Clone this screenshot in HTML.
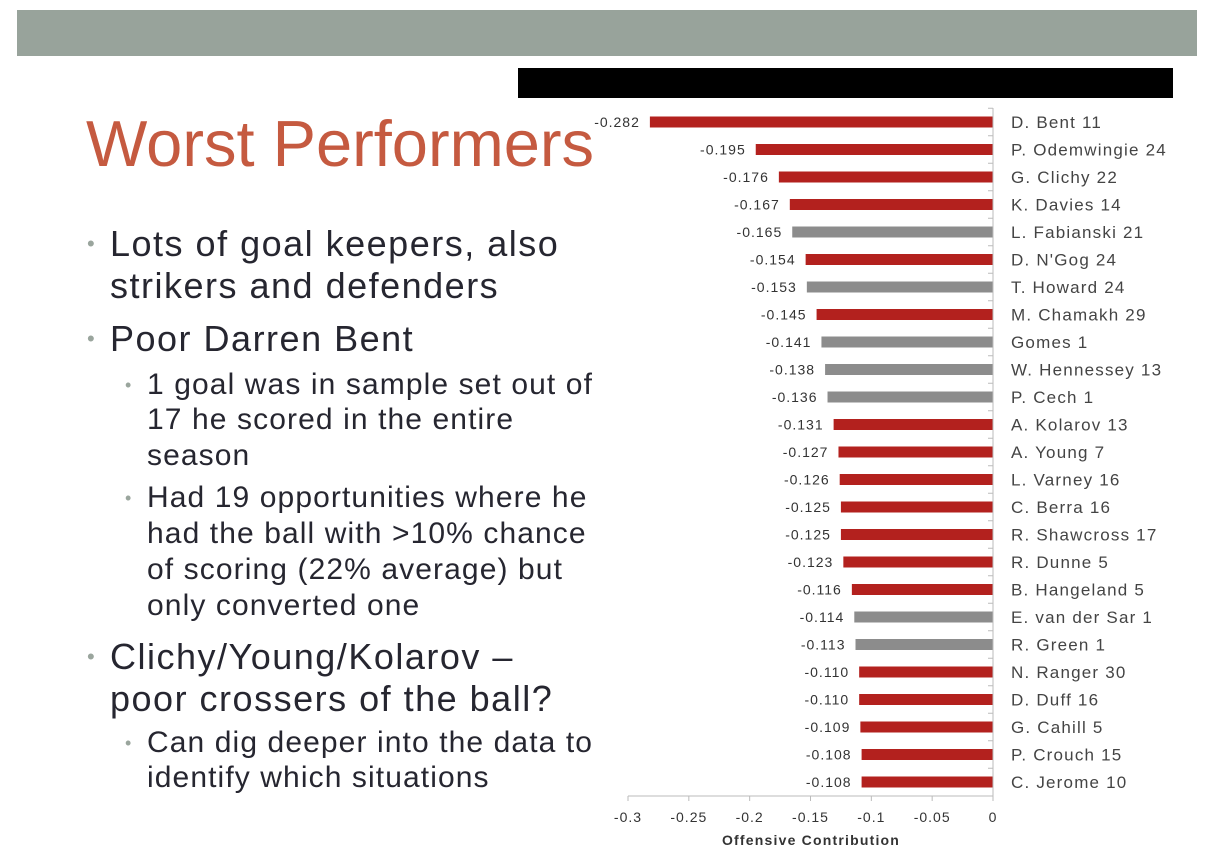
<!DOCTYPE html>
<html><head><meta charset="utf-8"><style>
body{margin:0;width:1226px;height:858px;background:#fff;position:relative;overflow:hidden;font-family:"Liberation Sans",sans-serif}
.a{position:absolute;white-space:nowrap}
.m{font-size:36px;letter-spacing:1.5px;color:#262630;line-height:40px;left:110px}
.s{font-size:30px;letter-spacing:1.1px;color:#262630;line-height:34px;left:147px}
.b{position:absolute;color:#9aa59d}
</style></head><body>
<div class="a" style="left:17px;top:10px;width:1180px;height:46px;background:#98a39b"></div>
<div class="a" style="left:518px;top:68px;width:655px;height:30px;background:#000"></div>
<div class="a" style="left:86px;top:104px;font-size:65px;line-height:80px;color:#c55a40">Worst Performers</div>
<div>
<div class="a m" style="top:224px"><span class="b" style="left:-23px;font-size:22px">•</span>Lots of goal keepers, also</div>
<div class="a m" style="top:266px">strikers and defenders</div>
<div class="a m" style="top:319px"><span class="b" style="left:-23px;font-size:22px">•</span>Poor Darren Bent</div>
<div class="a s" style="top:368px"><span class="b" style="left:-22px;font-size:18px">•</span>1 goal was in sample set out of</div>
<div class="a s" style="top:403px">17 he scored in the entire</div>
<div class="a s" style="top:439px">season</div>
<div class="a s" style="top:481px"><span class="b" style="left:-22px;font-size:18px">•</span>Had 19 opportunities where he</div>
<div class="a s" style="top:517px">had the ball with &gt;10% chance</div>
<div class="a s" style="top:553px">of scoring (22% average) but</div>
<div class="a s" style="top:589px">only converted one</div>
<div class="a m" style="top:637px"><span class="b" style="left:-23px;font-size:22px">•</span>Clichy/Young/Kolarov –</div>
<div class="a m" style="top:679px">poor crossers of the ball?</div>
<div class="a s" style="top:726px"><span class="b" style="left:-22px;font-size:18px">•</span>Can dig deeper into the data to</div>
<div class="a s" style="top:761px">identify which situations</div>
</div>
<svg class="a" style="left:0;top:0" width="1226" height="858">
<g id="g"></g></svg>
<script>
const names=["D. Bent 11","P. Odemwingie 24","G. Clichy 22","K. Davies 14","L. Fabianski 21","D. N'Gog 24","T. Howard 24","M. Chamakh 29","Gomes 1","W. Hennessey 13","P. Cech 1","A. Kolarov 13","A. Young 7","L. Varney 16","C. Berra 16","R. Shawcross 17","R. Dunne 5","B. Hangeland 5","E. van der Sar 1","R. Green 1","N. Ranger 30","D. Duff 16","G. Cahill 5","P. Crouch 15","C. Jerome 10"];
const values=[-0.282,-0.195,-0.176,-0.167,-0.165,-0.154,-0.153,-0.145,-0.141,-0.138,-0.136,-0.131,-0.127,-0.126,-0.125,-0.125,-0.123,-0.116,-0.114,-0.113,-0.110,-0.110,-0.109,-0.108,-0.108];
const keeper=[0,0,0,0,1,0,1,0,1,1,1,0,0,0,0,0,0,0,1,1,0,0,0,0,0];
const ticks=[-0.3,-0.25,-0.2,-0.15,-0.1,-0.05,0];
const tickLabels=["-0.3","-0.25","-0.2","-0.15","-0.1","-0.05","0"];
const g=document.getElementById('g');
const x=v=>993+v*1216.7;
const y=i=>122+i*27.5;
function el(t,a,txt){const e=document.createElementNS('http://www.w3.org/2000/svg',t);for(const k in a)e.setAttribute(k,a[k]);if(txt!==undefined)e.textContent=txt;g.appendChild(e);return e;}
values.forEach((v,i)=>{
 const r=el('rect',{x:x(v),y:y(i)-5.5,width:x(0)-x(v),height:11,fill:keeper[i]?'#8c8c8c':'#b3211e'});
 
 
 const l=el('text',{x:x(v)-10,y:y(i)+5,'text-anchor':'end','font-size':14,'letter-spacing':1,fill:'#333','font-family':'Liberation Sans'},v.toFixed(3));
 
 
 const n=el('text',{x:1011,y:y(i)+6,'font-size':17,'letter-spacing':1.2,fill:'#444','font-family':'Liberation Sans'},names[i]);
 
 
 el('line',{x1:988,x2:993,y1:y(i)-13.75,y2:y(i)-13.75,stroke:'#bbb'});
});
el('line',{x1:993,x2:993,y1:108,y2:796,stroke:'#bbb'});
el('line',{x1:x(-0.3),x2:993,y1:796,y2:796,stroke:'#bbb'});
ticks.forEach((t,i)=>{
 el('line',{x1:x(t),x2:x(t),y1:796,y2:801,stroke:'#bbb'});
 const tl=el('text',{x:x(t),y:822,'text-anchor':'middle','font-size':14,'letter-spacing':1,fill:'#333','font-family':'Liberation Sans'},tickLabels[i]);
 
 
});
const at=el('text',{x:811,y:845,'text-anchor':'middle','font-size':14,'font-weight':'bold','letter-spacing':1.2,fill:'#333','font-family':'Liberation Sans'},'Offensive Contribution');


</script>
</body></html>
